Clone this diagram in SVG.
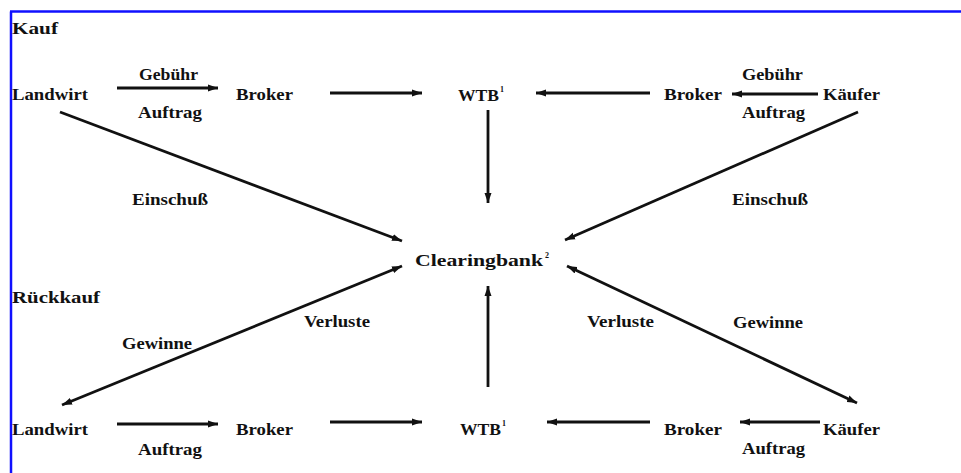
<svg xmlns="http://www.w3.org/2000/svg" width="961" height="473" viewBox="0 0 961 473">
<style>
text{font-family:"Liberation Serif","Times New Roman",serif;font-weight:bold;font-size:17.5px;fill:#111}
.sup{font-size:8px}
.c line{stroke:#111;stroke-width:2.8;fill:none}
.a{marker-end:url(#ah)}
.d{marker-end:url(#ah);marker-start:url(#ah)}
</style>
<defs>
<marker id="ah" markerUnits="userSpaceOnUse" markerWidth="11" markerHeight="8" refX="10" refY="4" orient="auto-start-reverse">
<path d="M0,0.5 L10,4 L0,7.5 Z" fill="#111"/>
</marker>
</defs>
<rect width="961" height="473" fill="#fff"/>
<g id="frame" stroke="#1010ff" stroke-width="2.5" fill="none">
<line x1="10" y1="11.5" x2="961" y2="11.5"/>
<line x1="11" y1="11.5" x2="11" y2="473"/>
</g>
<g id="labels">
<text x="12" y="34" textLength="46" lengthAdjust="spacingAndGlyphs">Kauf</text>
<text x="12" y="303" textLength="88" lengthAdjust="spacingAndGlyphs">Rückkauf</text>
<text x="139" y="80" textLength="59" lengthAdjust="spacingAndGlyphs">Gebühr</text>
<text x="138" y="118" textLength="64" lengthAdjust="spacingAndGlyphs">Auftrag</text>
<text x="742" y="80" textLength="61" lengthAdjust="spacingAndGlyphs">Gebühr</text>
<text x="742" y="118" textLength="63" lengthAdjust="spacingAndGlyphs">Auftrag</text>
<text x="132" y="205" textLength="76" lengthAdjust="spacingAndGlyphs">Einschuß</text>
<text x="732" y="205" textLength="76" lengthAdjust="spacingAndGlyphs">Einschuß</text>
<text x="122" y="349" textLength="70" lengthAdjust="spacingAndGlyphs">Gewinne</text>
<text x="304" y="327" textLength="66" lengthAdjust="spacingAndGlyphs">Verluste</text>
<text x="587" y="327" textLength="67" lengthAdjust="spacingAndGlyphs">Verluste</text>
<text x="733" y="328" textLength="70" lengthAdjust="spacingAndGlyphs">Gewinne</text>
<text x="138" y="455" textLength="64" lengthAdjust="spacingAndGlyphs">Auftrag</text>
<text x="742" y="454" textLength="63" lengthAdjust="spacingAndGlyphs">Auftrag</text>
</g>
<g id="landwirt-kauf"><text x="12" y="100" textLength="76" lengthAdjust="spacingAndGlyphs">Landwirt</text></g>
<g id="broker-kauf-l"><text x="236" y="100" textLength="57" lengthAdjust="spacingAndGlyphs">Broker</text></g>
<g id="wtb-kauf"><text x="458" y="101" textLength="41" lengthAdjust="spacingAndGlyphs">WTB</text><text class="sup" x="500" y="92">1</text></g>
<g id="broker-kauf-r"><text x="664" y="100" textLength="58" lengthAdjust="spacingAndGlyphs">Broker</text></g>
<g id="kaeufer-kauf"><text x="823" y="100" textLength="57" lengthAdjust="spacingAndGlyphs">Käufer</text></g>
<g id="clearingbank"><text x="415" y="266" textLength="128" lengthAdjust="spacingAndGlyphs">Clearingbank</text><text class="sup" x="545" y="258">2</text></g>
<g id="landwirt-rueck"><text x="12" y="435" textLength="76" lengthAdjust="spacingAndGlyphs">Landwirt</text></g>
<g id="broker-rueck-l"><text x="236" y="435" textLength="57" lengthAdjust="spacingAndGlyphs">Broker</text></g>
<g id="wtb-rueck"><text x="460" y="435" textLength="41" lengthAdjust="spacingAndGlyphs">WTB</text><text class="sup" x="502" y="426">1</text></g>
<g id="broker-rueck-r"><text x="664" y="435" textLength="58" lengthAdjust="spacingAndGlyphs">Broker</text></g>
<g id="kaeufer-rueck"><text x="823" y="435" textLength="57" lengthAdjust="spacingAndGlyphs">Käufer</text></g>
<g id="connectors" class="c">
<line class="a" x1="117" y1="88" x2="218" y2="88"/>
<line class="a" x1="330" y1="93" x2="422" y2="93"/>
<line class="a" x1="650" y1="93" x2="536" y2="93"/>
<line class="a" x1="818" y1="94" x2="732" y2="94"/>
<line class="a" x1="488" y1="110" x2="488" y2="203"/>
<line class="a" x1="60" y1="112" x2="402" y2="241"/>
<line class="a" x1="858" y1="112" x2="565" y2="240"/>
<line class="d" x1="62" y1="405" x2="402" y2="266"/>
<line class="d" x1="857" y1="403" x2="567" y2="266"/>
<line class="a" x1="488" y1="387" x2="488" y2="286"/>
<line class="a" x1="117" y1="424" x2="218" y2="424"/>
<line class="a" x1="330" y1="422" x2="422" y2="422"/>
<line class="a" x1="650" y1="422" x2="547" y2="422"/>
<line class="a" x1="820" y1="422" x2="740" y2="422"/>
</g>
</svg>
